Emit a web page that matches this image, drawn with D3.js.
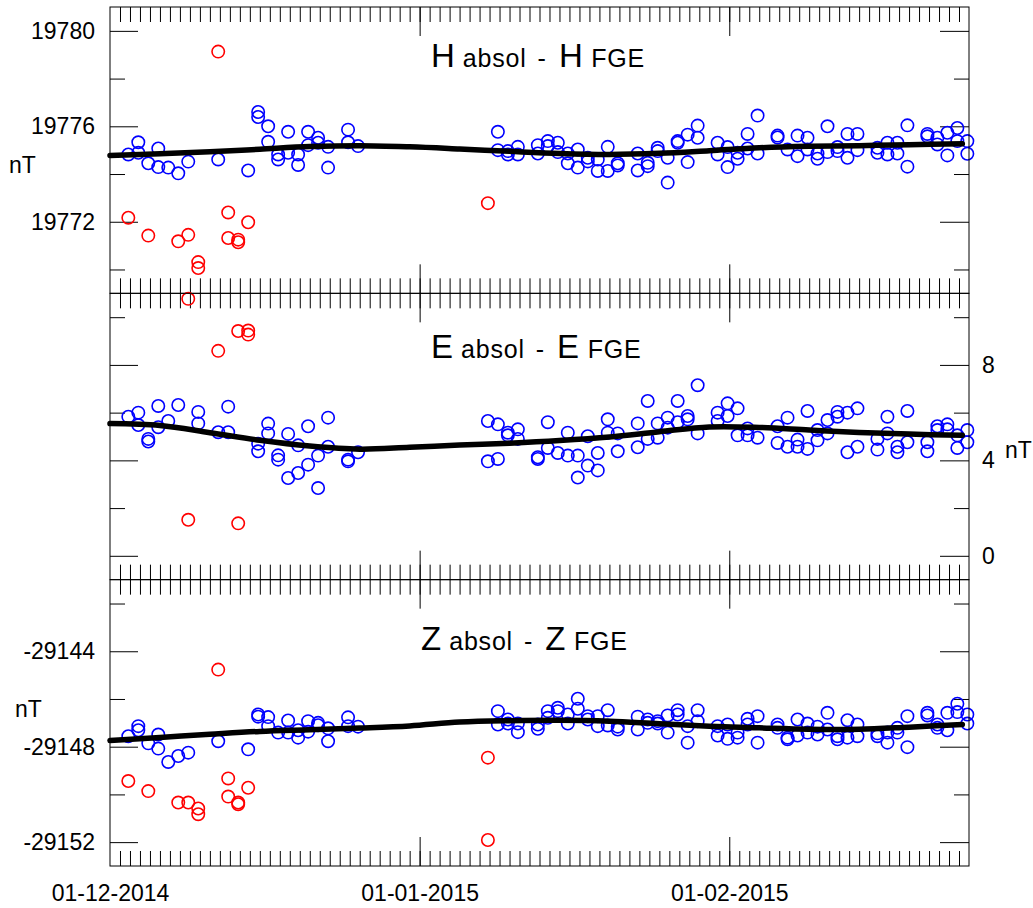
<!DOCTYPE html>
<html>
<head>
<meta charset="utf-8">
<script src="https://cdn.jsdelivr.net/npm/d3@7"></script>
<style>
  html, body { margin: 0; padding: 0; background: #fff; }
  svg { display: block; font-family: "Liberation Sans", Arial, Helvetica, sans-serif; }
</style>
</head>
<body>
<svg id="chart" width="1033" height="908"></svg>
<script>
// ---- Baseline differences: absolute observations minus fluxgate (FGE) readings ----
// Each date has one or more evening observations; values in nT.

// H component
const hBlueDates = ["2014-12-02","2014-12-03","2014-12-04","2014-12-05","2014-12-06","2014-12-07","2014-12-08","2014-12-11","2014-12-14","2014-12-15","2014-12-16","2014-12-17","2014-12-18","2014-12-19","2014-12-20","2014-12-21","2014-12-22","2014-12-24","2014-12-25",
  "2015-01-08","2015-01-09","2015-01-10","2015-01-12","2015-01-13","2015-01-14","2015-01-15","2015-01-16","2015-01-17","2015-01-18","2015-01-19","2015-01-20","2015-01-22","2015-01-23","2015-01-24","2015-01-25","2015-01-26","2015-01-27","2015-01-28","2015-01-30","2015-01-31",
  "2015-02-01","2015-02-02","2015-02-03","2015-02-05","2015-02-06","2015-02-07","2015-02-08","2015-02-09","2015-02-10","2015-02-11","2015-02-12","2015-02-13","2015-02-15","2015-02-16","2015-02-17","2015-02-18","2015-02-20","2015-02-21","2015-02-22","2015-02-23","2015-02-24"];
const hBlueValues = [[19774.82],[19775.33,19774.89],[19774.45],[19775.07,19774.29],[19774.27],[19774.03],[19774.52],[19774.61],[19774.15],[19776.60,19776.39],[19776.00,19775.35],[19774.82,19774.61],[19775.77,19774.89],[19774.82,19774.38],[19775.77,19775.21],[19775.52,19775.31],[19775.14,19774.27],[19775.86,19775.33],[19775.17],
  [19775.77,19775.00],[19774.96,19774.82],[19775.14,19774.82],[19775.21,19774.86],[19775.38,19775.17],[19775.31,19774.92],[19774.86,19774.45],[19775.03,19774.27],[19774.68,19774.53],[19774.61,19774.13],[19775.14,19774.13],[19774.45,19774.36],[19774.86,19774.15],[19774.47,19774.33],[19775.10,19774.96],[19774.68,19773.64],[19775.38,19775.31],[19775.65,19774.50],[19776.03,19775.52],[19775.31,19774.82],[19775.13,19774.29],
  [19774.89,19774.64],[19775.68,19775.07],[19776.45,19774.86],[19775.61,19775.53],[19775.03],[19775.61,19774.75],[19775.52,19775.03],[19774.86,19774.64],[19776.00,19774.92],[19775.13,19774.96],[19775.68,19774.68],[19775.68,19775.00],[19775.10,19774.89],[19775.31,19774.82],[19775.31,19774.86],[19776.04,19774.31],[19775.68,19775.58],[19775.52,19775.24],[19775.73,19774.78],[19775.93,19775.38],[19775.38,19774.85]];
const hRedDates = ["2014-12-02","2014-12-04","2014-12-07","2014-12-08","2014-12-09","2014-12-11","2014-12-12","2014-12-13","2014-12-14","2015-01-07"];
const hRedValues = [[19772.17],[19771.42],[19771.18],[19771.45],[19770.31,19770.06],[19779.13],[19772.39,19771.32],[19771.25,19771.14],[19771.98],[19772.78]];

// E component
const eBlueDates = ["2014-12-02","2014-12-03","2014-12-04","2014-12-05","2014-12-06","2014-12-07","2014-12-09","2014-12-11","2014-12-12","2014-12-15","2014-12-16","2014-12-17","2014-12-18","2014-12-19","2014-12-20","2014-12-21","2014-12-22","2014-12-24","2014-12-25",
  "2015-01-07","2015-01-08","2015-01-09","2015-01-10","2015-01-12","2015-01-13","2015-01-14","2015-01-15","2015-01-16","2015-01-17","2015-01-18","2015-01-19","2015-01-20","2015-01-22","2015-01-23","2015-01-24","2015-01-25","2015-01-26","2015-01-27","2015-01-28","2015-01-30","2015-01-31",
  "2015-02-01","2015-02-02","2015-02-03","2015-02-05","2015-02-06","2015-02-07","2015-02-08","2015-02-09","2015-02-10","2015-02-11","2015-02-12","2015-02-13","2015-02-15","2015-02-16","2015-02-17","2015-02-18","2015-02-20","2015-02-21","2015-02-22","2015-02-23","2015-02-24"];
const eBlueValues = [[5.83],[6.00,5.48],[4.90,4.79],[6.28,5.39],[5.65],[6.32],[6.03,5.55],[5.18],[6.25,5.18],[4.70,4.38],[5.54,5.13],[4.21,4.03],[5.11,3.26],[4.63,3.47],[5.43,3.82],[4.20,2.84],[5.79,4.57],[4.03,3.96],[4.34],
  [5.65,3.96],[5.51,4.06],[5.16,5.05],[5.30,4.90],[4.13,4.06],[5.60,4.52],[4.31],[5.16,4.20],[4.20,3.28],[5.01,3.78],[4.31,3.58],[5.72,5.16],[5.13,4.38],[5.55,4.55],[6.49,4.90],[5.55,4.95],[5.79,5.37],[6.49,5.60],[5.86,5.72],[7.15,5.13],[6.00,5.65],[6.39,5.86],
  [6.18,5.05],[5.34,5.05],[4.95],[5.43,4.73],[5.79,4.57],[4.87,4.57],[6.07,4.48],[5.27,4.84],[5.69,5.13],[6.03,5.83],[6.00,4.34],[6.18,4.57],[4.90,4.45],[5.83,5.13],[4.57,4.34],[6.07,4.76],[4.76,4.38],[5.43,5.27],[5.51,5.30],[5.05,4.52],[5.27,4.76]];
const eRedDates = ["2014-12-08","2014-12-11","2014-12-13","2014-12-14"];
const eRedValues = [[10.77,1.51],[8.59],[9.42,1.36],[9.44,9.27]];

// Z component
const zBlueDates = ["2014-12-02","2014-12-03","2014-12-04","2014-12-05","2014-12-06","2014-12-07","2014-12-08","2014-12-11","2014-12-14","2014-12-15","2014-12-16","2014-12-17","2014-12-18","2014-12-19","2014-12-20","2014-12-21","2014-12-22","2014-12-24","2014-12-25",
  "2015-01-08","2015-01-09","2015-01-10","2015-01-12","2015-01-13","2015-01-14","2015-01-15","2015-01-16","2015-01-17","2015-01-18","2015-01-19","2015-01-20","2015-01-22","2015-01-23","2015-01-24","2015-01-25","2015-01-26","2015-01-27","2015-01-28","2015-01-30","2015-01-31",
  "2015-02-01","2015-02-02","2015-02-03","2015-02-05","2015-02-06","2015-02-07","2015-02-08","2015-02-09","2015-02-10","2015-02-11","2015-02-12","2015-02-13","2015-02-15","2015-02-16","2015-02-17","2015-02-18","2015-02-20","2015-02-21","2015-02-22","2015-02-23","2015-02-24"];
const zBlueValues = [[-29147.56],[-29147.14,-29147.31],[-29147.86],[-29147.49,-29148.08],[-29148.64],[-29148.39],[-29148.25],[-29147.77],[-29148.11],[-29146.65,-29146.74],[-29146.76,-29147.14],[-29147.41],[-29146.90,-29147.41],[-29147.31,-29147.62],[-29146.93,-29147.37],[-29147.00,-29147.10],[-29147.23,-29147.77],[-29146.77,-29147.14],[-29147.16],
  [-29146.51,-29147.07],[-29146.86,-29147.03],[-29147.03,-29147.39],[-29147.07,-29147.25],[-29146.51,-29146.79],[-29146.37,-29146.51],[-29146.65,-29147.03],[-29145.99,-29146.41],[-29146.72,-29146.86],[-29146.72,-29147.14],[-29146.47,-29147.11],[-29147.16,-29147.28],[-29146.74,-29147.28],[-29146.86,-29147.00],[-29146.93,-29147.03],[-29146.69,-29147.41],[-29146.47,-29146.65],[-29147.14,-29147.83],[-29146.47,-29146.93],[-29147.14,-29147.53],[-29147.07,-29147.67],
  [-29147.41,-29147.62],[-29146.83,-29147.07],[-29146.72,-29147.83],[-29147.07,-29147.21],[-29147.62,-29147.69],[-29146.86,-29147.53],[-29147.03,-29147.41],[-29147.16,-29147.49],[-29146.58,-29147.28],[-29147.56,-29147.69],[-29146.89,-29147.62],[-29147.07,-29147.56],[-29147.44,-29147.56],[-29147.41,-29147.83],[-29147.21,-29147.41],[-29146.72,-29148.02],[-29146.58,-29146.69],[-29147.07,-29147.21],[-29146.58,-29147.31],[-29146.20,-29146.55],[-29146.65,-29147.03]];
const zRedDates = ["2014-12-02","2014-12-04","2014-12-07","2014-12-08","2014-12-09","2014-12-11","2014-12-12","2014-12-13","2014-12-14","2015-01-07"];
const zRedValues = [[-29149.44],[-29149.86],[-29150.34],[-29150.34],[-29150.59,-29150.83],[-29144.77],[-29149.33,-29150.09],[-29150.34,-29150.41],[-29149.72],[-29148.46,-29151.91]];

// Adopted (smoothed) baselines
const baselineTimes = ["2014-12-01T00:00","2014-12-06T00:00","2014-12-11T00:00","2014-12-16T00:00","2014-12-21T00:00","2014-12-26T00:00","2014-12-31T00:00","2015-01-05T00:00","2015-01-10T00:00","2015-01-15T00:00","2015-01-20T00:00","2015-01-25T00:00","2015-01-30T00:00","2015-02-04T00:00","2015-02-09T00:00","2015-02-14T00:00","2015-02-19T00:00","2015-02-24T08:00"];
const hBaseline = [19774.78,19774.85,19774.93,19775.04,19775.15,19775.19,19775.14,19775.05,19774.95,19774.86,19774.82,19774.87,19774.98,19775.10,19775.16,19775.19,19775.23,19775.27];
const eBaseline = [5.54,5.46,5.16,4.84,4.60,4.47,4.55,4.64,4.72,4.83,4.98,5.20,5.40,5.38,5.27,5.17,5.10,5.05];
const zBaseline = [-29147.74,-29147.61,-29147.48,-29147.36,-29147.29,-29147.22,-29147.13,-29146.97,-29146.91,-29146.89,-29146.93,-29147.04,-29147.14,-29147.21,-29147.27,-29147.27,-29147.18,-29147.07];

// Axis extents and ticks
const timeExtent = ["2014-12-01T00:00","2015-02-25T00:00"];
const dateLabels = ["2014-12-01T00:00","2015-01-01T00:00","2015-02-01T00:00"];
const hExtent = [19769, 19781];
const eExtent = [-1, 11];
const zExtent = [-29153, -29141];
const hTicks = [19770,19772,19774,19776,19778,19780];
const hLabelTicks = [19772,19776,19780];
const eTicks = [0,2,4,6,8,10];
const eLabelTicks = [0,4,8];
const zTicks = [-29152,-29150,-29148,-29146,-29144,-29142];
const zLabelTicks = [-29152,-29148,-29144];

// ---- Drawing ----
const parseTime = d3.utcParse("%Y-%m-%dT%H:%M");
const obsClock = "T20:00";
const toPoints = (dates, values) =>
  dates.flatMap((d, i) => values[i].map(v => ({ t: parseTime(d + obsClock), v })));

const plotLeft = 110, plotRight = 969, plotTop = 7, plotBottom = 866;
const panelH = (plotBottom - plotTop) / 3;
const fontSize = 23;

const x = d3.scaleUtc().domain(timeExtent.map(parseTime)).range([plotLeft, plotRight]);
const dayTicks = d3.utcDay.range(d3.utcDay.offset(x.domain()[0], 1), x.domain()[1]);
const monthTicks = d3.utcMonth.range(d3.utcDay.offset(x.domain()[0], 1), x.domain()[1]);

const panels = [
  { comp: "H", extent: hExtent, ticks: hTicks, labels: hLabelTicks, side: "left",
    blue: toPoints(hBlueDates, hBlueValues), red: toPoints(hRedDates, hRedValues), base: hBaseline,
    titleX: 431, titleDy: 59.7, unitX: 9, unitY: 173 },
  { comp: "E", extent: eExtent, ticks: eTicks, labels: eLabelTicks, side: "right",
    blue: toPoints(eBlueDates, eBlueValues), red: toPoints(eRedDates, eRedValues), base: eBaseline,
    titleX: 431, titleDy: 64.7, unitX: 1005, unitY: 458 },
  { comp: "Z", extent: zExtent, ticks: zTicks, labels: zLabelTicks, side: "left",
    blue: toPoints(zBlueDates, zBlueValues), red: toPoints(zRedDates, zRedValues), base: zBaseline,
    titleX: 421, titleDy: 70.3, unitX: 15, unitY: 717 }
];

const svg = d3.select("#chart");
const plainNumber = d => String(d);

function styleAxis(g) {
  g.select(".domain").remove();
  g.selectAll(".tick line").attr("stroke", "#000").attr("stroke-width", 1);
  g.selectAll("text").attr("font-size", fontSize).attr("fill", "#000");
  g.attr("font-family", null).attr("font-size", null);
}

panels.forEach((p, i) => {
  const top = plotTop + i * panelH;
  const bottom = top + panelH;
  const y = d3.scaleLinear().domain(p.extent).range([bottom, top]);
  const g = svg.append("g");

  // day ticks on the upper and lower edges, longer at month starts
  g.append("g").attr("transform", `translate(0,${top})`)
    .call(d3.axisTop(x).tickValues(dayTicks).tickSize(-15).tickFormat("")).call(styleAxis);
  g.append("g").attr("transform", `translate(0,${top})`)
    .call(d3.axisTop(x).tickValues(monthTicks).tickSize(-29).tickFormat("")).call(styleAxis);
  g.append("g").attr("transform", `translate(0,${bottom})`)
    .call(d3.axisBottom(x).tickValues(dayTicks).tickSize(-15).tickFormat("")).call(styleAxis);
  g.append("g").attr("transform", `translate(0,${bottom})`)
    .call(d3.axisBottom(x).tickValues(monthTicks).tickSize(-29).tickFormat("")).call(styleAxis);

  // value ticks on both sides; labels on one side
  const minor = p.ticks.filter(v => !p.labels.includes(v));
  g.append("g").attr("transform", `translate(${plotLeft},0)`)
    .call(d3.axisLeft(y).tickValues(minor).tickSize(-15).tickFormat("")).call(styleAxis);
  g.append("g").attr("transform", `translate(${plotLeft},0)`)
    .call(d3.axisLeft(y).tickValues(p.labels).tickSize(-28).tickPadding(15)
      .tickFormat(p.side === "left" ? plainNumber : () => "")).call(styleAxis);
  g.append("g").attr("transform", `translate(${plotRight},0)`)
    .call(d3.axisRight(y).tickValues(minor).tickSize(-15).tickFormat("")).call(styleAxis);
  g.append("g").attr("transform", `translate(${plotRight},0)`)
    .call(d3.axisRight(y).tickValues(p.labels).tickSize(-29).tickPadding(13)
      .tickFormat(p.side === "right" ? plainNumber : () => "")).call(styleAxis);

  // unit label
  g.append("text").attr("x", p.unitX).attr("y", p.unitY)
    .attr("font-size", fontSize).text("nT");

  // observations
  g.append("g").selectAll("circle").data(p.blue).join("circle")
    .attr("cx", d => x(d.t)).attr("cy", d => y(d.v)).attr("r", 6.2)
    .attr("fill", "none").attr("stroke", "#0000ff").attr("stroke-width", 1.6);
  g.append("g").selectAll("circle").data(p.red).join("circle")
    .attr("cx", d => x(d.t)).attr("cy", d => y(d.v)).attr("r", 6.2)
    .attr("fill", "none").attr("stroke", "#ff0000").attr("stroke-width", 1.6);

  // adopted baseline
  const line = d3.line().x(d => x(d.t)).y(d => y(d.v)).curve(d3.curveCatmullRom.alpha(0.5));
  g.append("path")
    .datum(baselineTimes.map((t, k) => ({ t: parseTime(t), v: p.base[k] })))
    .attr("d", line).attr("fill", "none").attr("stroke", "#000")
    .attr("stroke-width", 5.5).attr("stroke-linecap", "round");

  // title: "X absol - X FGE" with large component letters
  const title = g.append("text").attr("x", p.titleX).attr("y", top + p.titleDy).attr("fill", "#000");
  title.append("tspan").attr("font-size", 33).text(p.comp);
  title.append("tspan").attr("font-size", 25).attr("dx", 8).attr("letter-spacing", 0.8).text("absol");
  title.append("tspan").attr("font-size", 25).attr("dx", 11).text("-");
  title.append("tspan").attr("font-size", 33).attr("dx", 13).text(p.comp);
  title.append("tspan").attr("font-size", 25).attr("dx", 8.5).attr("letter-spacing", 0.8).text("FGE");

  // panel frame
  g.append("rect").attr("x", plotLeft).attr("y", top)
    .attr("width", plotRight - plotLeft).attr("height", panelH)
    .attr("fill", "none").attr("stroke", "#000").attr("stroke-width", 1);
});

// date labels under the lowest panel
svg.append("g").attr("transform", `translate(0,${plotBottom})`)
  .call(d3.axisBottom(x).tickValues(dateLabels.map(parseTime)).tickSize(0).tickPadding(19)
    .tickFormat(d3.utcFormat("%d-%m-%Y")))
  .call(styleAxis);
</script>
</body>
</html>
